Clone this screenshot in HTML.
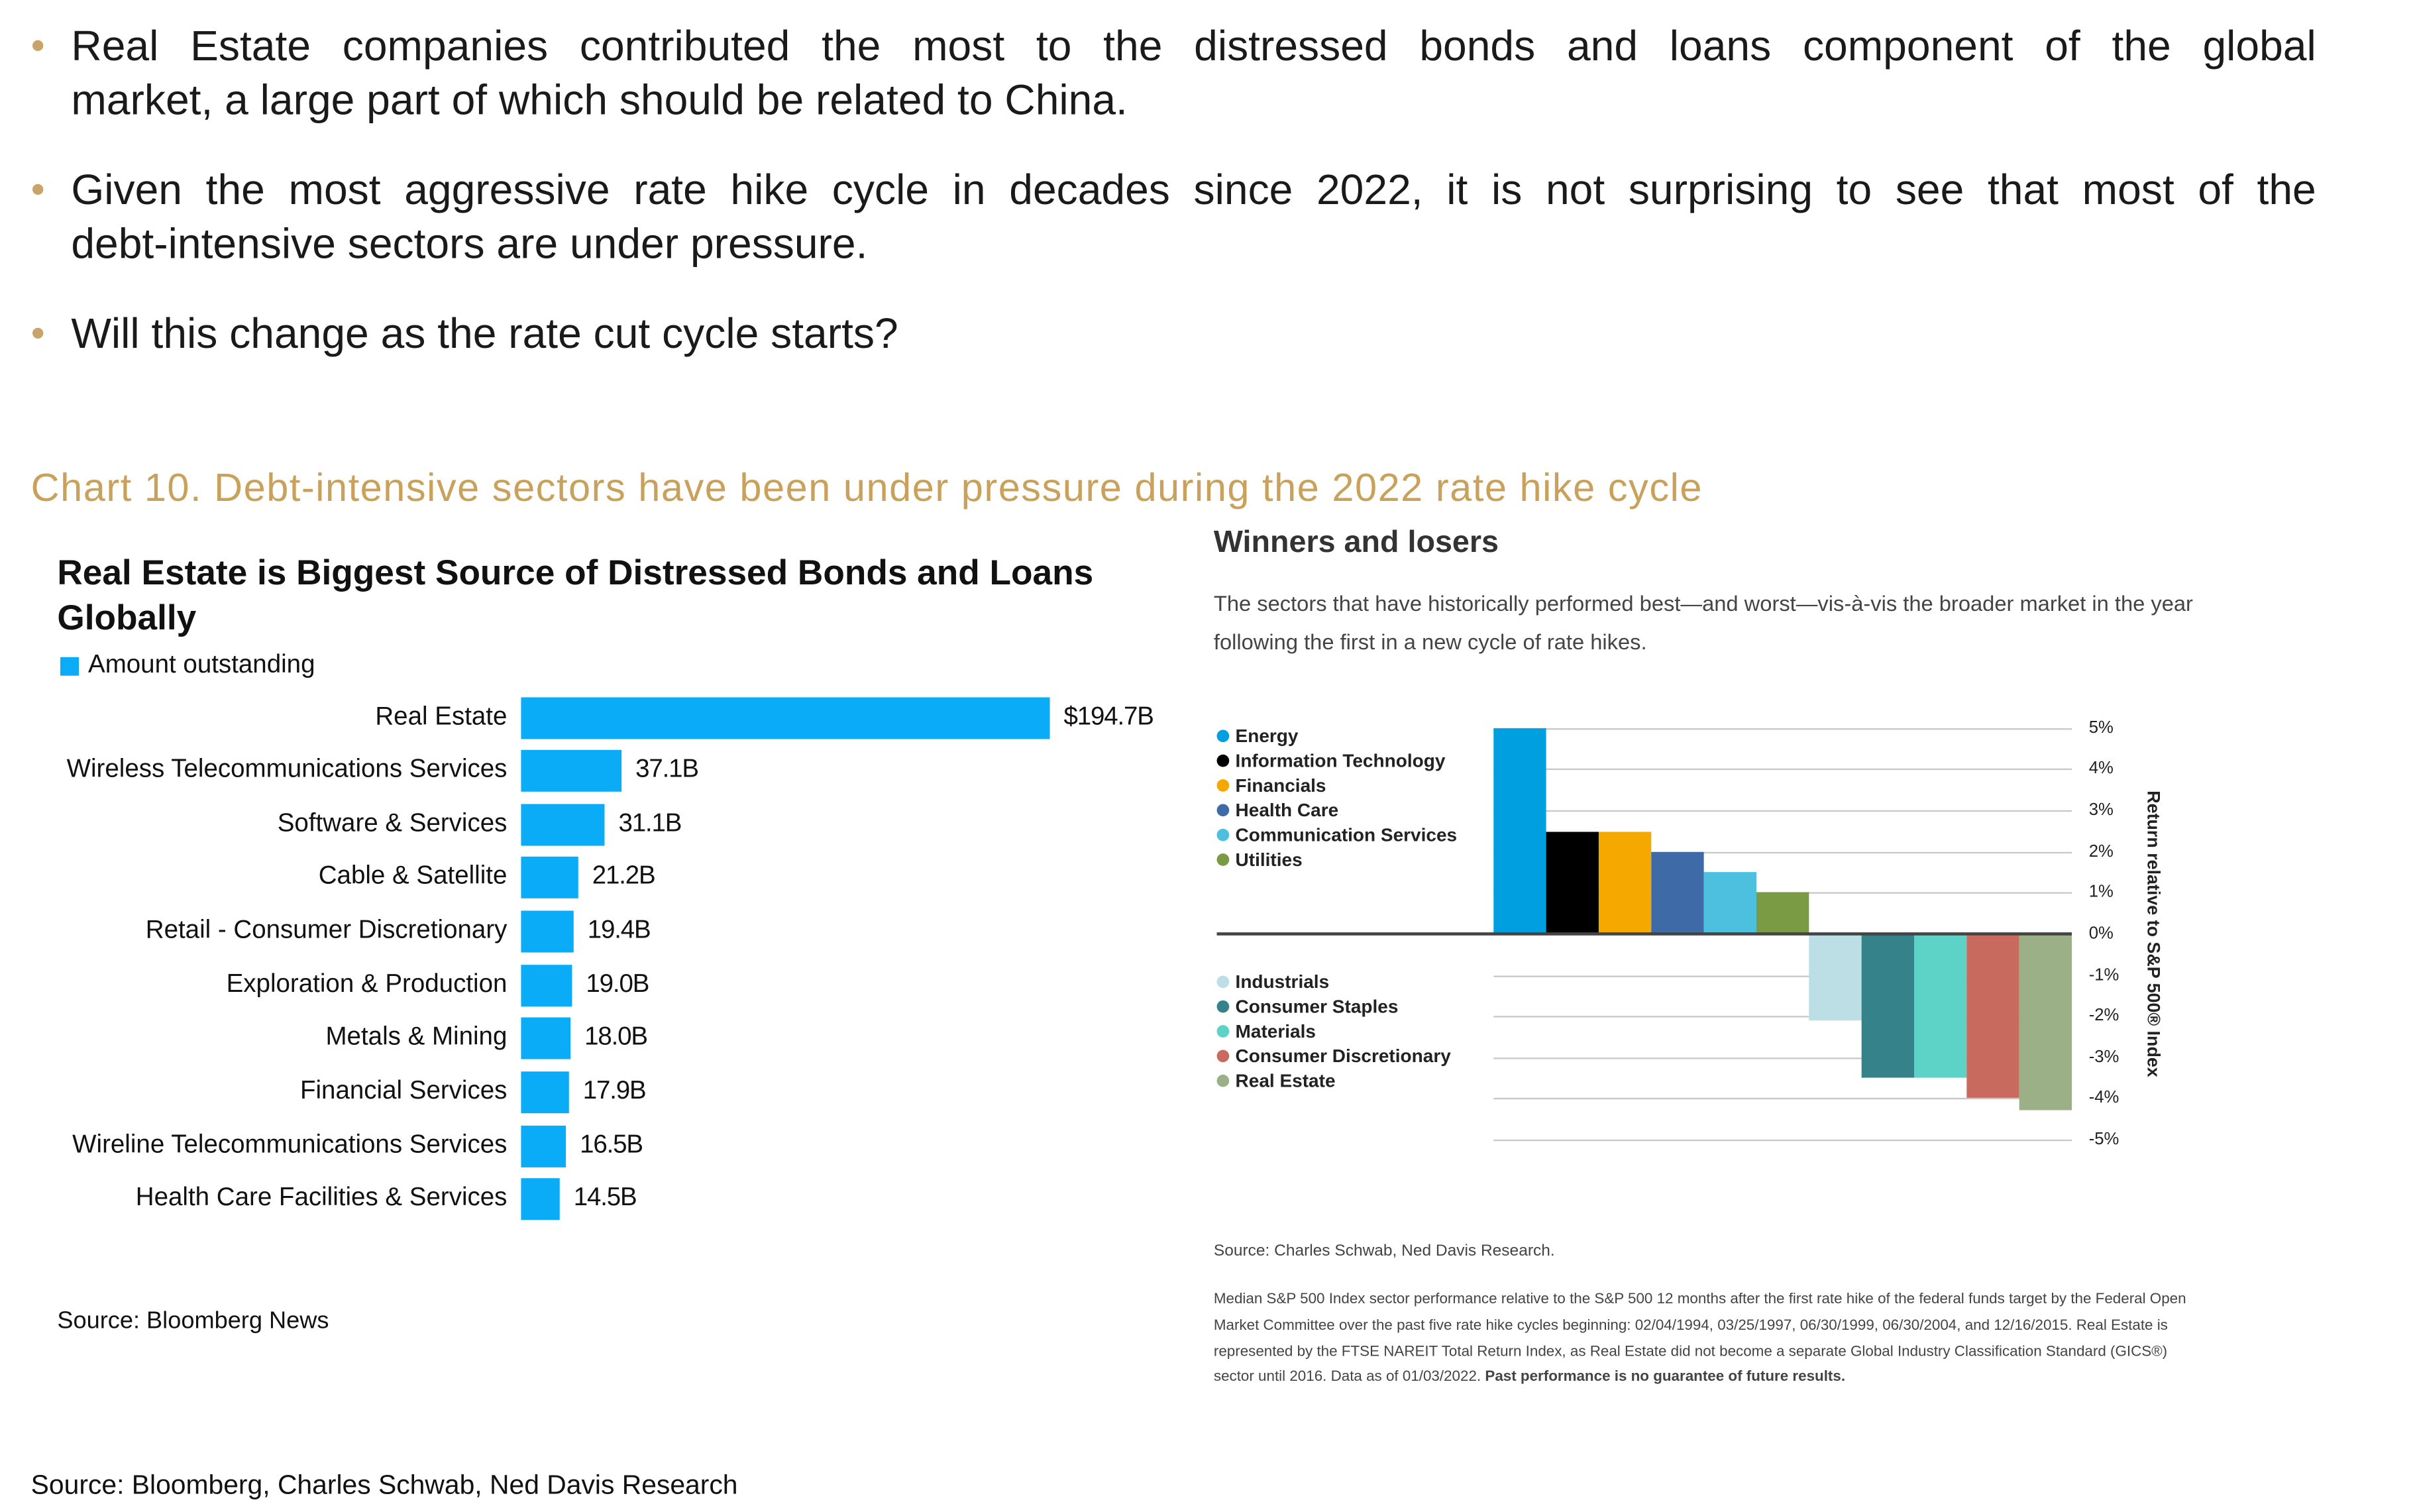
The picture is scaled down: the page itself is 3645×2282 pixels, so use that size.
<!DOCTYPE html>
<html><head><meta charset="utf-8"><style>
html,body{margin:0;padding:0;background:#fff;}
body{width:3645px;height:2281px;overflow:hidden;position:relative;}
#c{position:absolute;left:0;top:0;width:1562px;height:978px;transform:scale(2.3336);transform-origin:0 0;font-family:"Liberation Sans",sans-serif;color:#222;}
.a{position:absolute;white-space:nowrap;}
.b{position:absolute;left:46px;width:1452px;font-size:27.5px;line-height:35px;color:#1a1a1a;white-space:nowrap;}
.j{text-align:justify;text-align-last:justify;}
.dot{position:absolute;left:21px;width:7px;height:7px;border-radius:50%;background:#c9a46a;}
.lab{position:absolute;right:1234px;font-size:16.5px;color:#111;white-space:nowrap;transform:translateY(-50%);}
.bar{position:absolute;left:337px;height:27px;background:#0aabf7;}
.val{position:absolute;font-size:16.5px;color:#111;white-space:nowrap;transform:translateY(-50%);letter-spacing:-0.5px;}
.g{position:absolute;height:1px;background:#c8c8c8;}
.tk{position:absolute;left:1351px;font-size:11px;color:#222;transform:translateY(-50%);white-space:nowrap;}
.lg{position:absolute;left:787px;font-size:12px;font-weight:bold;color:#222;transform:translateY(-50%);white-space:nowrap;}
.lg i{display:inline-block;width:8px;height:8px;border-radius:50%;margin-right:4px;vertical-align:0px;}
.cb{position:absolute;width:34px;}
</style></head><body><div id="c">
<div class="dot" style="top:26px"></div>
<div class="b j" style="top:12px">Real Estate companies contributed the most to the distressed bonds and loans component of the global</div>
<div class="b" style="top:47px">market, a large part of which should be related to China.</div>
<div class="dot" style="top:119px"></div>
<div class="b j" style="top:105px">Given the most aggressive rate hike cycle in decades since 2022, it is not surprising to see that most of the</div>
<div class="b" style="top:140px">debt-intensive sectors are under pressure.</div>
<div class="dot" style="top:212px"></div>
<div class="b" style="top:198px">Will this change as the rate cut cycle starts?</div>

<div class="a" style="left:20px;top:302px;font-size:25.5px;color:#c9a15a;letter-spacing:0.65px;">Chart 10. Debt-intensive sectors have been under pressure during the 2022 rate hike cycle</div>

<div class="a" style="left:37px;top:356px;font-size:22.8px;font-weight:bold;color:#111;line-height:29px;white-space:normal;width:700px;">Real Estate is Biggest Source of Distressed Bonds and Loans Globally</div>
<div class="a" style="left:39px;top:425px;width:12px;height:12px;background:#0aabf7;"></div>
<div class="a" style="left:57px;top:421px;font-size:16.5px;color:#111;">Amount outstanding</div>

<div class="lab" style="top:464px;right:1234px">Real Estate</div>
<div class="bar" style="top:451px;width:342px"></div><div class="val" style="left:688px;top:464px">$194.7B</div>
<div class="lab" style="top:498px">Wireless Telecommunications Services</div>
<div class="bar" style="top:485px;width:65px"></div><div class="val" style="left:411px;top:498px">37.1B</div>
<div class="lab" style="top:533px">Software &amp; Services</div>
<div class="bar" style="top:520px;width:54px"></div><div class="val" style="left:400px;top:533px">31.1B</div>
<div class="lab" style="top:567px">Cable &amp; Satellite</div>
<div class="bar" style="top:554px;width:37px"></div><div class="val" style="left:383px;top:567px">21.2B</div>
<div class="lab" style="top:602px">Retail - Consumer Discretionary</div>
<div class="bar" style="top:589px;width:34px"></div><div class="val" style="left:380px;top:602px">19.4B</div>
<div class="lab" style="top:637px">Exploration &amp; Production</div>
<div class="bar" style="top:624px;width:33px"></div><div class="val" style="left:379px;top:637px">19.0B</div>
<div class="lab" style="top:671px">Metals &amp; Mining</div>
<div class="bar" style="top:658px;width:32px"></div><div class="val" style="left:378px;top:671px">18.0B</div>
<div class="lab" style="top:706px">Financial Services</div>
<div class="bar" style="top:693px;width:31px"></div><div class="val" style="left:377px;top:706px">17.9B</div>
<div class="lab" style="top:741px">Wireline Telecommunications Services</div>
<div class="bar" style="top:728px;width:29px"></div><div class="val" style="left:375px;top:741px">16.5B</div>
<div class="lab" style="top:775px">Health Care Facilities &amp; Services</div>
<div class="bar" style="top:762px;width:25px"></div><div class="val" style="left:371px;top:775px">14.5B</div>

<div class="a" style="left:37px;top:846px;font-size:15.5px;color:#111;">Source: Bloomberg News</div>

<div class="a" style="left:785px;top:340px;font-size:20px;font-weight:bold;color:#333;">Winners and losers</div>
<div class="a" style="left:785px;top:378px;font-size:14px;color:#444;line-height:24.5px;white-space:normal;width:640px;">The sectors that have historically performed best—and worst—vis-à-vis the broader market in the year following the first in a new cycle of rate hikes.</div>

<div class="g" style="left:966px;width:374px;top:471px"></div>
<div class="g" style="left:966px;width:374px;top:497px"></div>
<div class="g" style="left:966px;width:374px;top:524px"></div>
<div class="g" style="left:966px;width:374px;top:551px"></div>
<div class="g" style="left:966px;width:374px;top:577px"></div>
<div class="g" style="left:966px;width:374px;top:631px"></div>
<div class="g" style="left:966px;width:374px;top:657px"></div>
<div class="g" style="left:966px;width:374px;top:684px"></div>
<div class="g" style="left:966px;width:374px;top:710px"></div>
<div class="g" style="left:966px;width:374px;top:737px"></div>

<div class="cb" style="left:966px;top:471px;height:133px;background:#009fdf"></div>
<div class="cb" style="left:1000px;top:538px;height:66px;background:#000"></div>
<div class="cb" style="left:1034px;top:538px;height:66px;background:#f5a800"></div>
<div class="cb" style="left:1068px;top:551px;height:53px;background:#3f6aa8"></div>
<div class="cb" style="left:1102px;top:564px;height:40px;background:#4dc0df"></div>
<div class="cb" style="left:1136px;top:577px;height:27px;background:#7a9a44"></div>
<div class="cb" style="left:1170px;top:604px;height:56px;background:#bcdfe6"></div>
<div class="cb" style="left:1204px;top:604px;height:93px;background:#36828a"></div>
<div class="cb" style="left:1238px;top:604px;height:93px;background:#5dd3c8"></div>
<div class="cb" style="left:1272px;top:604px;height:106px;background:#c96a5e"></div>
<div class="cb" style="left:1306px;top:604px;height:114px;background:#9cb088"></div>
<div class="a" style="left:787px;top:603px;width:553px;height:2px;background:#444"></div>

<div class="tk" style="top:471px">5%</div><div class="tk" style="top:497px">4%</div>
<div class="tk" style="top:524px">3%</div><div class="tk" style="top:551px">2%</div>
<div class="tk" style="top:577px">1%</div><div class="tk" style="top:604px">0%</div>
<div class="tk" style="top:631px">-1%</div><div class="tk" style="top:657px">-2%</div>
<div class="tk" style="top:684px">-3%</div><div class="tk" style="top:710px">-4%</div>
<div class="tk" style="top:737px">-5%</div>
<div class="a" style="left:1392px;top:604px;font-size:11.5px;font-weight:bold;color:#222;transform:translate(-50%,-50%) rotate(90deg);">Return relative to S&amp;P 500® Index</div>

<div class="lg" style="top:476px"><i style="background:#009fdf"></i>Energy</div>
<div class="lg" style="top:492px"><i style="background:#000"></i>Information Technology</div>
<div class="lg" style="top:508px"><i style="background:#f5a800"></i>Financials</div>
<div class="lg" style="top:524px"><i style="background:#3f6aa8"></i>Health Care</div>
<div class="lg" style="top:540px"><i style="background:#4dc0df"></i>Communication Services</div>
<div class="lg" style="top:556px"><i style="background:#7a9a44"></i>Utilities</div>
<div class="lg" style="top:635px"><i style="background:#bcdfe6"></i>Industrials</div>
<div class="lg" style="top:651px"><i style="background:#36828a"></i>Consumer Staples</div>
<div class="lg" style="top:667px"><i style="background:#5dd3c8"></i>Materials</div>
<div class="lg" style="top:683px"><i style="background:#c96a5e"></i>Consumer Discretionary</div>
<div class="lg" style="top:699px"><i style="background:#9cb088"></i>Real Estate</div>

<div class="a" style="left:785px;top:803px;font-size:10.5px;color:#444;">Source: Charles Schwab, Ned Davis Research.</div>
<div class="a" style="left:785px;top:833px;font-size:9.6px;color:#444;line-height:16.8px;white-space:normal;width:640px;">Median S&amp;P 500 Index sector performance relative to the S&amp;P 500 12 months after the first rate hike of the federal funds target by the Federal Open Market Committee over the past five rate hike cycles beginning: 02/04/1994, 03/25/1997, 06/30/1999, 06/30/2004, and 12/16/2015. Real Estate is represented by the FTSE NAREIT Total Return Index, as Real Estate did not become a separate Global Industry Classification Standard (GICS®) sector until 2016. Data as of 01/03/2022. <b>Past performance is no guarantee of future results.</b></div>

<div class="a" style="left:20px;top:950px;font-size:17.5px;color:#111;">Source: Bloomberg, Charles Schwab, Ned Davis Research</div>
</div></body></html>
